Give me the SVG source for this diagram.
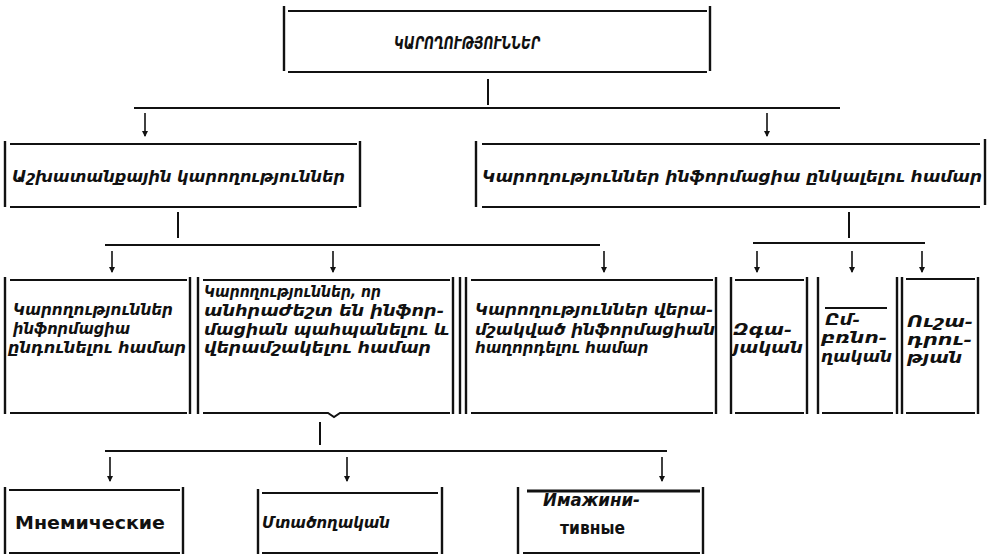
<svg xmlns="http://www.w3.org/2000/svg" width="992" height="557" viewBox="0 0 992 557">
<defs>
<style>
.ln{stroke:#111;stroke-width:2;fill:none;stroke-linecap:butt}
.vl{stroke:#111;stroke-width:2.4;fill:none}
.cn{stroke:#111;stroke-width:2;fill:none}
.ar{stroke:#111;stroke-width:1.6;fill:none}
.hy{font-family:"DejaVu Sans","Noto Sans",sans-serif;font-weight:bold;font-style:italic;font-size:15px;fill:#111}
.ru{font-family:"DejaVu Sans","Liberation Sans",sans-serif;font-weight:bold;font-size:17px;fill:#111}
</style>
<marker id="ah" viewBox="0 0 6 10" refX="5" refY="5" markerWidth="6" markerHeight="10" markerUnits="userSpaceOnUse" orient="auto">
<path d="M0,2 L6,5 L0,8 Z" fill="#111"/>
</marker>
</defs>
<rect width="992" height="557" fill="#fff"/>

<g id="connectors">
<path class="cn" d="M488,79 V105"/>
<path class="cn" d="M134,108 H840"/>
<path class="ar" d="M145,113 V136" marker-end="url(#ah)"/>
<path class="ar" d="M767,113 V136" marker-end="url(#ah)"/>
<path class="cn" d="M178,212 V238"/>
<path class="cn" d="M105,245 H600"/>
<path class="ar" d="M112,251 V272" marker-end="url(#ah)"/>
<path class="ar" d="M333,251 V272" marker-end="url(#ah)"/>
<path class="ar" d="M604,251 V272" marker-end="url(#ah)"/>
<path class="cn" d="M849,212 V238"/>
<path class="cn" d="M753,243 H925"/>
<path class="ar" d="M757,251 V272" marker-end="url(#ah)"/>
<path class="ar" d="M852,251 V272" marker-end="url(#ah)"/>
<path class="ar" d="M922,251 V272" marker-end="url(#ah)"/>
<path class="cn" d="M320,422 V445"/>
<path class="cn" d="M105,451 H667"/>
<path class="ar" d="M110,457 V481" marker-end="url(#ah)"/>
<path class="ar" d="M347,457 V481" marker-end="url(#ah)"/>
<path class="ar" d="M662,457 V481" marker-end="url(#ah)"/>
</g>

<g id="root">
<path class="vl" d="M284,6 V71 M710,6 V71"/>
<path class="ln" d="M288,11 H707 M288,72 H707"/>
<text class="hy" x="394" y="49" style="font-size:17px" textLength="146" lengthAdjust="spacingAndGlyphs">ԿԱՐՈՂՈՒԹՅՈՒՆՆԵՐ</text>
</g>

<g id="work">
<path class="vl" d="M5,141 V207 M360,141 V207"/>
<path class="ln" d="M10,144 H357 M10,207 H357"/>
<text class="hy" x="12" y="182" style="font-size:16px" textLength="333" lengthAdjust="spacingAndGlyphs">Աշխատանքային կարողություններ</text>
</g>

<g id="perceive">
<path class="vl" d="M476,141 V207 M985,139 V205"/>
<path class="ln" d="M482,144 H980 M482,207 H980"/>
<text class="hy" x="482" y="182" style="font-size:16px" textLength="500" lengthAdjust="spacingAndGlyphs">Կարողություններ ինֆորմացիա ընկալելու համար</text>
</g>

<g id="receive">
<path class="vl" d="M5,277 V414 M190,277 V414"/>
<path class="ln" d="M10,280 H187 M10,413 H187"/>
<text class="hy" x="13" y="315" textLength="160" lengthAdjust="spacingAndGlyphs">Կարողություններ</text>
<text class="hy" x="13" y="334" textLength="117" lengthAdjust="spacingAndGlyphs">ինֆորմացիա</text>
<text class="hy" x="8" y="353" textLength="178" lengthAdjust="spacingAndGlyphs">ընդունելու համար</text>
</g>

<g id="store">
<path class="vl" d="M198,277 V414 M453,277 V414"/>
<path class="ln" d="M203,280 H450 M203,413 H328 L334,417 L340,413 H450"/>
<text class="hy" x="204" y="297" textLength="177" lengthAdjust="spacingAndGlyphs">Կարողություններ, որ</text>
<text class="hy" x="204" y="316" textLength="240" lengthAdjust="spacingAndGlyphs">անհրաժեշտ են ինֆոր-</text>
<text class="hy" x="204" y="335" textLength="245" lengthAdjust="spacingAndGlyphs">մացիան պահպանելու և</text>
<text class="hy" x="204" y="353" textLength="227" lengthAdjust="spacingAndGlyphs">վերամշակելու համար</text>
</g>

<g id="transmit">
<path class="vl" d="M460,277 V414 M466,277 V414 M716,277 V414"/>
<path class="ln" d="M471,280 H713 M471,413 H713"/>
<text class="hy" x="475" y="315" textLength="238" lengthAdjust="spacingAndGlyphs">Կարողություններ վերա-</text>
<text class="hy" x="475" y="335" textLength="240" lengthAdjust="spacingAndGlyphs">մշակված ինֆորմացիան</text>
<text class="hy" x="475" y="353">հաղորդելու համար</text>
</g>

<g id="sensory">
<path class="vl" d="M731,277 V414 M807,277 V414"/>
<path class="ln" d="M735,280 H804 M735,413 H804"/>
<text class="hy" x="733" y="335" textLength="59" lengthAdjust="spacingAndGlyphs">Զգա-</text>
<text class="hy" x="733" y="353" textLength="70" lengthAdjust="spacingAndGlyphs">յական</text>
</g>

<g id="comprehension">
<path class="vl" d="M818,277 V414 M897,277 V414"/>
<path class="ln" d="M825,308 H887 M822,413 H893"/>
<text class="hy" x="825" y="325" textLength="35" lengthAdjust="spacingAndGlyphs">Ըմ-</text>
<text class="hy" x="821" y="343" textLength="66" lengthAdjust="spacingAndGlyphs">բռնո-</text>
<text class="hy" x="821" y="362" textLength="71" lengthAdjust="spacingAndGlyphs">ղական</text>
</g>

<g id="attention">
<path class="vl" d="M902,277 V414 M978,277 V414"/>
<path class="ln" d="M906,279 H975 M906,413 H975"/>
<text class="hy" x="907" y="327" textLength="66" lengthAdjust="spacingAndGlyphs">Ուշա-</text>
<text class="hy" x="907" y="345" textLength="65" lengthAdjust="spacingAndGlyphs">դրու-</text>
<text class="hy" x="907" y="363" textLength="55" lengthAdjust="spacingAndGlyphs">թյան</text>
</g>

<g id="mnemic">
<path class="vl" d="M5,487 V554 M183,487 V554"/>
<path class="ln" d="M9,490 H180 M9,553 H180"/>
<text class="ru" x="15" y="529" textLength="150" lengthAdjust="spacingAndGlyphs">Мнемические</text>
</g>

<g id="thinking">
<path class="vl" d="M258,489 V554 M442,487 V554"/>
<path class="ln" d="M262,493 H438 M262,553 H438"/>
<text class="hy" x="262" y="528" textLength="128" lengthAdjust="spacingAndGlyphs">Մտածողական</text>
</g>

<g id="imaginative">
<path class="vl" d="M518,487 V554 M703,487 V554"/>
<path class="ln" d="M527,491 H700" style="stroke-width:3.2"/>
<path class="ln" d="M523,553 H700"/>
<text class="ru" x="543" y="506" font-style="italic" textLength="97" lengthAdjust="spacingAndGlyphs">Имажини-</text>
<text class="ru" x="560" y="534" textLength="65" lengthAdjust="spacingAndGlyphs">тивные</text>
</g>
</svg>
